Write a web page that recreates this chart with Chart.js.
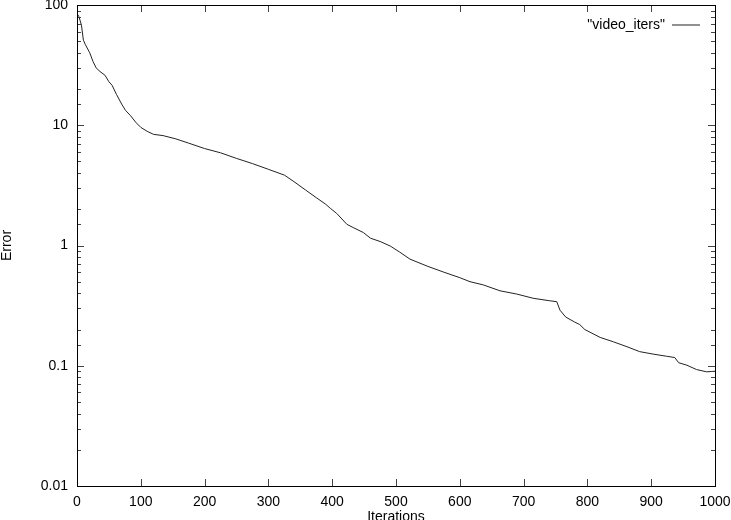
<!DOCTYPE html>
<html>
<head>
<meta charset="utf-8">
<script src="https://cdn.jsdelivr.net/npm/chart.js@4"></script>
<style>
  body { margin: 0; background: #fff; }
</style>
</head>
<body>
<canvas id="myChart" width="731" height="520"></canvas>
<script>
   // data
   const iterations = [0, 3, 7, 10, 13, 20, 25, 30, 36, 44, 50, 55, 62, 70, 76, 84, 92, 100, 110, 120,
       135, 155, 175, 200, 225, 250, 275, 300, 325, 340, 358, 375, 390, 397, 407, 423, 433, 449, 460, 475,
       491, 506, 522, 550, 575, 600, 616, 637, 663, 689, 715, 741, 752, 757, 766, 780, 788, 796, 820, 841,
       862, 882, 903, 924, 937, 943, 956, 971, 987, 1000];
   const errors = [85, 80, 68, 51, 47, 40, 34, 30, 28, 26, 23, 21.5, 18, 15, 13.3, 12, 10.6, 9.6, 8.9, 8.4,
       8.2, 7.7, 7.1, 6.4, 5.9, 5.3, 4.8, 4.3, 3.85, 3.4, 2.9, 2.5, 2.2, 2.04, 1.85, 1.5, 1.41, 1.28, 1.15, 1.08,
       0.99, 0.88, 0.77, 0.67, 0.6, 0.54, 0.5, 0.47, 0.42, 0.395, 0.364, 0.347, 0.341, 0.29, 0.254, 0.231, 0.22, 0.2, 0.172, 0.158,
       0.144, 0.131, 0.125, 0.12, 0.117, 0.106, 0.101, 0.093, 0.089, 0.09];
   const yTickLabels = ['0.01', '0.1', '1', '10', '100'];
   const seriesName = '"video_iters"';

   const font = { family: 'Liberation Sans', size: 14 };

   //    gnuplot style frame with inward ticks on all sides
   const framePlugin = {
       id: 'frame',
       afterDraw(chart) {
           const ctx = chart.ctx;
           const a = chart.chartArea;
           const x = chart.scales.x, y = chart.scales.y;
           ctx.save();
           ctx.strokeStyle = '#444';
           ctx.lineWidth = 1;
           ctx.beginPath();
           x.ticks.forEach(t => {
               const px = Math.round(x.getPixelForValue(t.value)) + 0.5;
               ctx.moveTo(px, a.bottom); ctx.lineTo(px, a.bottom - 7);
               ctx.moveTo(px, a.top); ctx.lineTo(px, a.top + 7);
           });
           y.ticks.forEach(t => {
               const major = Math.abs(Math.log10(t.value) - Math.round(Math.log10(t.value))) < 1e-6;
               const len = major ? 7 : 4;
               const py = Math.round(y.getPixelForValue(t.value)) + 0.5;
               ctx.moveTo(a.left, py); ctx.lineTo(a.left + len, py);
               ctx.moveTo(a.right, py); ctx.lineTo(a.right - len, py);
           });
           ctx.stroke();
           ctx.strokeStyle = '#000';
           ctx.strokeRect(Math.round(a.left) + 0.5, Math.round(a.top) + 0.5,
               Math.round(a.right - a.left), Math.round(a.bottom - a.top));
           ctx.restore();
       }
   };

   //    move the legend into the top right corner of the plot
   const legendPlacer = {
       id: 'legendPlacer',
       afterLayout(chart) {
           const lg = chart.legend;
           const a = chart.chartArea;
           const w = lg.width, h = lg.height;
           lg.left = a.right - 5 - w;
           lg.right = lg.left + w;
           lg.top = a.top + 3;
           lg.bottom = lg.top + h;
       }
   };

   const config = {
       type: 'line',
       data: {
           datasets: [{
               label: seriesName,
               data: iterations.map((it, i) => ({ x: it, y: errors[i] })),
               borderColor: '#222',
               borderWidth: 1,
               pointRadius: 0,
               tension: 0,
               fill: false
           }]
       },
       options: {
           responsive: false,
           animation: false,
           layout: { padding: { left: 0, right: 16, top: 5, bottom: 0 } },
           plugins: {
               legend: {
                   position: 'chartArea',
                   align: 'start',
                   rtl: true,
                   labels: {
                       usePointStyle: true,
                       pointStyle: 'line',
                       pointStyleWidth: 28,
                       boxWidth: 28,
                       color: '#000',
                       font: font,
                       padding: 10
                   }
               },
               tooltip: { enabled: false }
           },
           scales: {
               x: {
                   type: 'linear',
                   min: 0,
                   max: 1000,
                   afterFit: scale => {
                       scale.height = 34;
                       scale.paddingLeft = 0;
                       scale.paddingRight = 0;
                   },
                   border: { display: false },
                   grid: { display: false, drawTicks: false },
                   ticks: {
                       stepSize: 100, color: '#000', font: font, padding: 8, maxRotation: 0,
                       callback: v => String(v)
                   },
                   title: {
                       display: true,
                       text: 'Iterations',
                       color: '#000',
                       font: font,
                       padding: { top: 0, bottom: -6 }
                   }
               },
               y: {
                   type: 'logarithmic',
                   min: 0.01,
                   max: 100,
                   afterFit: scale => {
                       scale.width = 77;
                       scale.paddingTop = 0;
                       scale.paddingBottom = 0;
                   },
                   border: { display: false },
                   grid: { display: false, drawTicks: false },
                   ticks: {
                       color: '#000',
                       font: font,
                       padding: 9,
                       autoSkip: false,
                       callback: function (value) {
                           const e = Math.log10(value);
                           if (Math.abs(e - Math.round(e)) > 1e-6) return '';
                           return yTickLabels[Math.round(e) + 2];
                       }
                   },
                   title: {
                       display: true,
                       text: 'Error',
                       color: '#000',
                       font: font,
                       padding: { top: -1, bottom: 0 }
                   }
               }
           }
       },
       plugins: [framePlugin, legendPlacer]
   };

   new Chart(document.getElementById('myChart'), config);
</script>
</body>
</html>
